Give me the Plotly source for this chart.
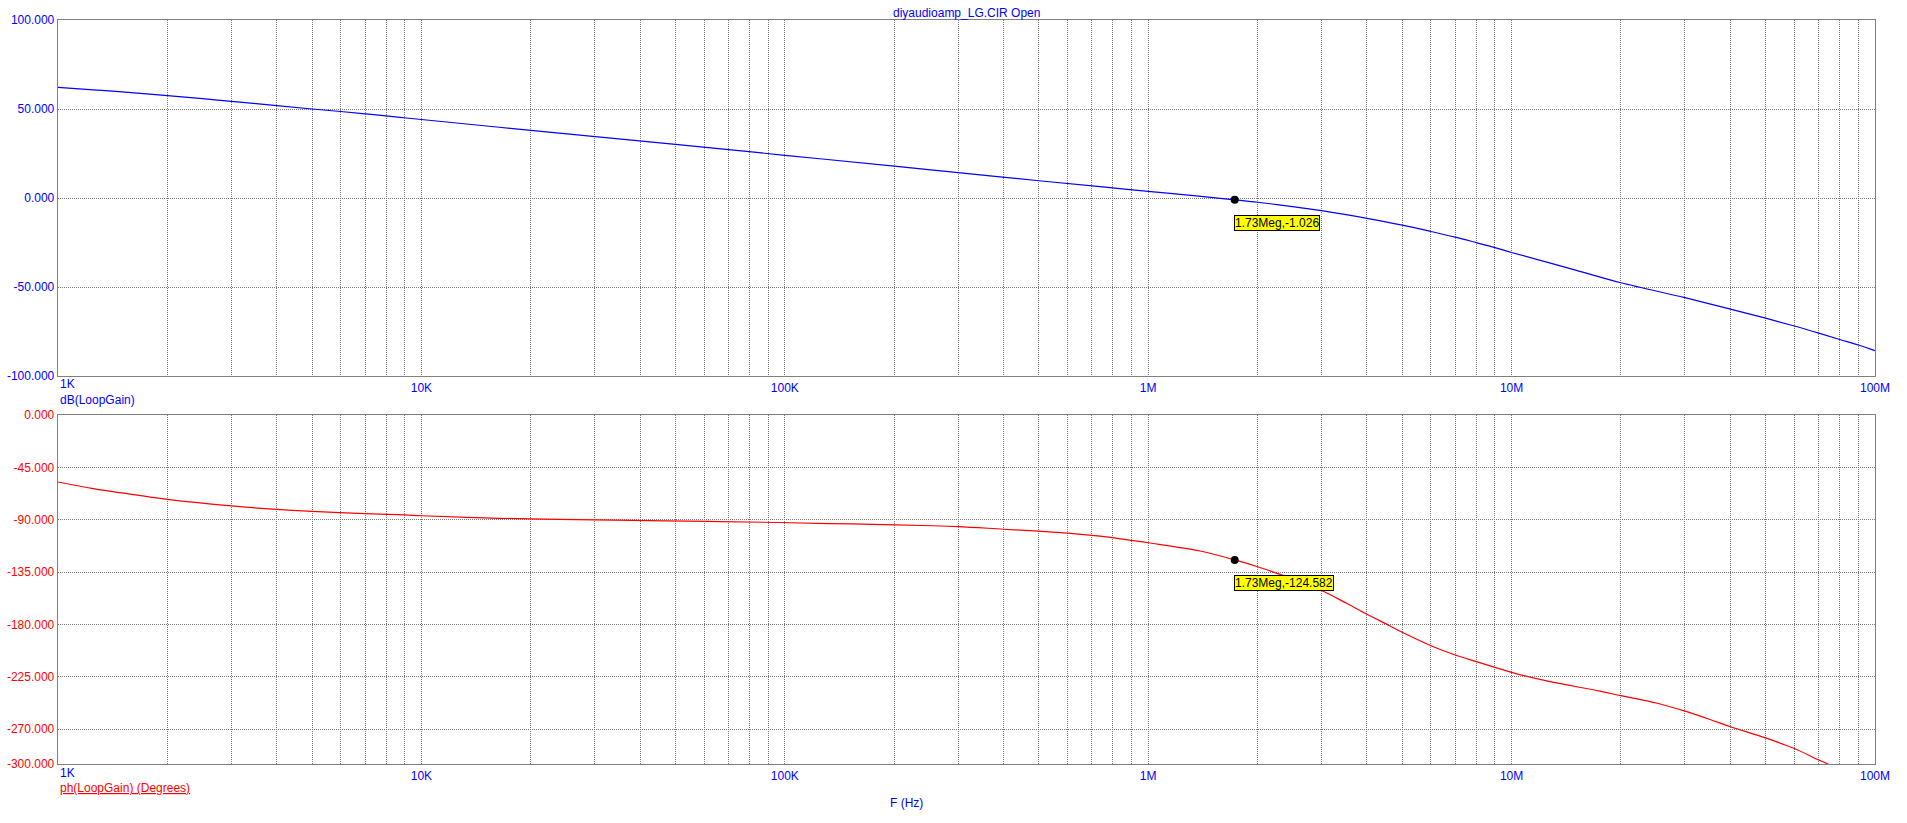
import numpy as np
import plotly.graph_objects as go

# ---- data ----
freq_mag = [1e3, 1.25e3, 1.5e3, 2e3, 2.5e3, 3e3, 4e3, 5e3, 6e3, 7e3, 8e3, 8.73e3,
            1e4, 2e4, 5e4, 1e5, 2e5, 3e5, 5e5, 7.37e5, 1e6, 1.377e6, 1.73e6, 2e6, 2.49e6, 3e6,
            4e6, 5e6, 6e6, 7e6, 8e6, 9e6, 1e7, 1.5e7, 2e7, 3e7, 4e7, 5e7, 6e7, 7e7, 8e7, 9e7, 1e8]
mag_db = [62.2, 60.8, 59.6, 57.5, 55.8, 54.3, 51.9, 50.0, 48.6, 47.3, 46.1, 45.3,
          44.1, 38.0, 30.1, 24.0, 17.9, 14.3, 9.7, 6.35, 3.75, 1.1, -1.026, -2.4, -4.8, -7.1,
          -11.4, -15.2, -18.8, -22.0, -25.1, -27.9, -30.6, -40.5, -47.6, -56.0, -62.4, -67.5,
          -71.9, -75.9, -79.5, -82.6, -85.8]

freq_ph = [1e3, 1.25e3, 1.5e3, 2e3, 3e3, 4e3, 5e3, 7e3, 9e3, 1e4, 1.64e4, 2.38e4, 3.8e4, 6.2e4,
           9.6e4, 1.33e5, 1.75e5, 2.4e5, 3e5, 4e5, 5e5, 6e5, 7.37e5, 8.6e5, 1e6, 1.389e6, 1.73e6,
           2e6, 2.305e6, 3e6, 3.516e6, 4e6, 4.63e6, 5e6, 6e6, 7e6, 8e6, 9e6, 1e7, 1.276e7, 1.75e7,
           2e7, 2.5e7, 3e7, 3.5e7, 4e7, 5e7, 6e7, 7e7, 7.43e7]
phase_deg = [-57.6, -63.3, -67.0, -72.5, -78.2, -81.1, -82.8, -84.8, -85.9, -86.6, -88.8, -89.7,
             -90.6, -91.5, -92.4, -93.3, -94.0, -95.0, -95.9, -98.2, -99.9, -101.5, -104.2, -106.9,
             -109.8, -116.9, -124.582, -130.4, -137.0, -150.8, -161.9, -171.3, -181.3, -186.8,
             -198.3, -206.3, -212.0, -217.0, -221.2, -229.2, -237.3, -241.3, -247.6, -254.6,
             -261.5, -268.0, -277.6, -286.7, -296.6, -300.0]

cursor_f = 1.73e6
cursor_mag = -1.026
cursor_ph = -124.582
cursor_mag_label = "1.73Meg,-1.026"
cursor_ph_label = "1.73Meg,-124.582"

decades = [1e3, 1e4, 1e5, 1e6, 1e7, 1e8]
decade_labels = ["1K", "10K", "100K", "1M", "10M", "100M"]

mag_ticks = [100, 50, 0, -50, -100]
mag_ticktext = ["100.000", "50.000", "0.000", "-50.000", "-100.000"]
ph_ticks = [0, -45, -90, -135, -180, -225, -270, -300]
ph_ticktext = ["0.000", "-45.000", "-90.000", "-135.000", "-180.000", "-225.000", "-270.000", "-300.000"]

title_text = "diyaudioamp_LG.CIR Open"
mag_label = "dB(LoopGain)"
ph_label = "ph(LoopGain) (Degrees)"
x_label = "F (Hz)"

# ---- build figure ----
BLUE = "#0000FF"
RED = "#FF0000"
GRID = "#7a7a7a"
FRAME = "#808080"
FONT = "Arial, Liberation Sans, sans-serif"

W, H = 1907, 823
# plot area in window pixels: x 58..1875, top panel y 20..376, bottom panel y 415..764
L = 58
R = W - 1875
T = 20
B = H - 764
PH = H - T - B


def py(pix):
    """window pixel y -> paper y"""
    return (H - B - pix) / PH


def px(pix):
    """window pixel x -> paper x"""
    return (pix - L) / (W - L - R)


grid_vals = []
ticktext_x = []
for i, d in enumerate(decades[:-1]):
    for k in range(1, 10):
        grid_vals.append(d * k)
        ticktext_x.append(decade_labels[i] if (k == 1 and i > 0) else "")
grid_vals.append(decades[-1])
ticktext_x.append(decade_labels[-1])

fig = go.Figure()
fig.add_trace(go.Scatter(x=freq_mag, y=mag_db, mode="lines",
                         line=dict(color=BLUE, width=1.2, shape="spline", smoothing=1.0),
                         xaxis="x", yaxis="y", showlegend=False, hoverinfo="skip"))
fig.add_trace(go.Scatter(x=freq_ph, y=phase_deg, mode="lines",
                         line=dict(color=RED, width=1.2, shape="spline", smoothing=1.0),
                         xaxis="x2", yaxis="y2", showlegend=False, hoverinfo="skip"))
fig.add_trace(go.Scatter(x=[cursor_f], y=[cursor_mag], mode="markers", marker=dict(color="black", size=8),
                         xaxis="x", yaxis="y", showlegend=False, hoverinfo="skip"))
fig.add_trace(go.Scatter(x=[cursor_f], y=[cursor_ph], mode="markers", marker=dict(color="black", size=8),
                         xaxis="x2", yaxis="y2", showlegend=False, hoverinfo="skip"))

xcommon = dict(type="log", range=[3, 8], tickmode="array", tickvals=grid_vals, ticktext=ticktext_x,
               showgrid=True, gridcolor=GRID, griddash="1px,1px", gridwidth=1,
               showline=True, mirror=True, linecolor=FRAME, linewidth=1.3,
               ticks="", tickfont=dict(family=FONT, size=12, color=BLUE), zeroline=False,
               automargin=False)
ycommon = dict(showgrid=True, gridcolor=GRID, griddash="1px,1px", gridwidth=1,
               showline=True, mirror=True, linecolor=FRAME, linewidth=1.3,
               ticks="", zeroline=False, tickmode="array", automargin=False)

top_dom = [py(376), 1.0]
bot_dom = [0.0, py(415)]

fig.update_layout(
    width=W, height=H, autosize=False,
    margin=dict(l=L, r=R, t=T, b=B, pad=0),
    paper_bgcolor="white", plot_bgcolor="white",
    font=dict(family=FONT, size=12),
    hovermode=False,
    xaxis=dict(**xcommon, anchor="y"),
    yaxis=dict(**ycommon, domain=top_dom, range=[-100, 100], tickvals=mag_ticks, ticktext=mag_ticktext,
               tickfont=dict(family=FONT, size=12, color=BLUE), anchor="x"),
    xaxis2=dict(**xcommon, anchor="y2"),
    yaxis2=dict(**ycommon, domain=bot_dom, range=[-300, 0], tickvals=ph_ticks, ticktext=ph_ticktext,
                tickfont=dict(family=FONT, size=12, color=RED), anchor="x2"),
)

ann = []
ann.append(dict(x=3, y=py(384.5), xref="x", yref="paper", text=decade_labels[0], showarrow=False,
                xanchor="left", yanchor="middle", font=dict(family=FONT, size=12, color=BLUE)))
ann.append(dict(x=3, y=py(772.5), xref="x2", yref="paper", text=decade_labels[0], showarrow=False,
                xanchor="left", yanchor="middle", font=dict(family=FONT, size=12, color=BLUE)))
ann.append(dict(x=0, y=py(400), xref="paper", yref="paper", text=mag_label, showarrow=False,
                xanchor="left", yanchor="middle", font=dict(family=FONT, size=12, color=BLUE)))
ann.append(dict(x=0, y=py(788), xref="paper", yref="paper", text="<u>" + ph_label + "</u>", showarrow=False,
                xanchor="left", yanchor="middle", font=dict(family=FONT, size=12, color=RED)))
ann.append(dict(x=px(906), y=py(803), xref="paper", yref="paper", text=x_label, showarrow=False,
                xanchor="center", yanchor="middle", font=dict(family=FONT, size=12, color=BLUE)))
ann.append(dict(x=0.5, y=py(12.5), xref="paper", yref="paper", text=title_text, showarrow=False,
                xanchor="center", yanchor="middle", font=dict(family=FONT, size=12, color=BLUE)))
ann.append(dict(x=np.log10(cursor_f), y=cursor_mag, xref="x", yref="y", text=cursor_mag_label, showarrow=False,
                xanchor="left", yanchor="top", yshift=-15, xshift=-1,
                bgcolor="#FFFF00", bordercolor="black", borderwidth=1, borderpad=0,
                font=dict(family=FONT, size=12, color="black")))
ann.append(dict(x=np.log10(cursor_f), y=cursor_ph, xref="x2", yref="y2", text=cursor_ph_label, showarrow=False,
                xanchor="left", yanchor="top", yshift=-15, xshift=-1,
                bgcolor="#FFFF00", bordercolor="black", borderwidth=1, borderpad=0,
                font=dict(family=FONT, size=12, color="black")))
fig.update_layout(annotations=ann)

fig.write_html("out.html", config={"displayModeBar": False, "staticPlot": True},
               post_script="document.body.style.margin='0';document.body.style.overflow='hidden';")
